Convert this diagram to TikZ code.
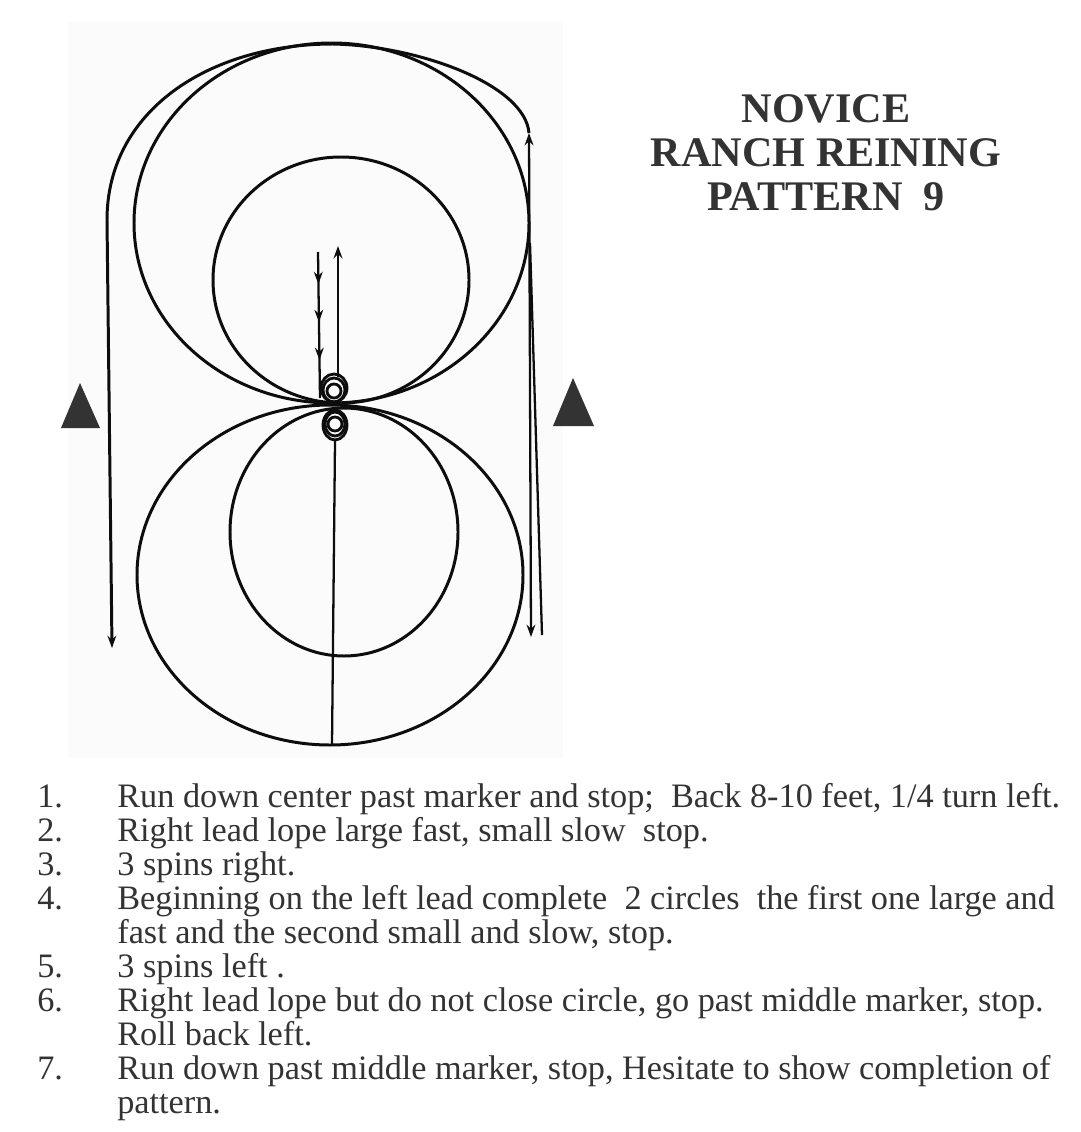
\documentclass[tikz,border=0pt]{standalone}
\usepackage{fontspec}
\setmainfont{Liberation Serif}
\usetikzlibrary{%
  arrows.meta,%
  decorations.markings%
}
\definecolor{inkgray}{HTML}{333333}
\definecolor{fieldgray}{HTML}{FBFBFB}

\begin{document}
\begin{tikzpicture}[x=0.02cm,y=-0.02cm,
  >={Stealth[length=7pt,width=5pt]},
  loop/.style={line width=1.7pt,black!95},
  run/.style={line width=1.3pt,black!95},
  spin/.style={line width=1.6pt,black!95},
  cone/.style={fill=inkgray},
  title/.style={font=\bfseries\fontsize{24}{24}\selectfont,text=inkgray,anchor=base,inner sep=0pt},
  item/.style={font=\fontsize{19.5}{19.5}\selectfont,text=inkgray,anchor=base west,inner sep=0pt}]
  \useasboundingbox (0,0) rectangle (1080,1132);
  \fill[white] (0,0) rectangle (1080,1132);
  \fill[fieldgray] (68,22) rectangle (563,758);
  % middle markers
  \fill[cone] (61,428) -- (80,383) -- (100,428) -- cycle;
  \fill[cone] (553,426) -- (573,378) -- (594,426) -- cycle;
  % circles
  \draw[loop] (331.5,223) ellipse [x radius=197.5,y radius=180];
  \draw[loop] (341,280) ellipse [x radius=128,y radius=123];
  \draw[loop] (330,575) ellipse [x radius=193,y radius=170];
  \draw[loop] (344,532) ellipse [x radius=114,y radius=124];
  % run down center, back up
  \draw[run,decoration={markings,
      mark=at position 0.22 with {\arrow{>}},
      mark=at position 0.48 with {\arrow{>}},
      mark=at position 0.74 with {\arrow{>}}},postaction={decorate}]
    (318,252) -- (320,398);
  \draw[run,->] (338,377) -- (338,246);
  \draw[run] (335,441) -- (332,745);
  % spins
  \draw[spin] (334,388) ellipse [x radius=13,y radius=14];
  \draw[spin] (334,390) ellipse [x radius=11,y radius=12];
  \draw[spin] (334,391) ellipse [x radius=7,y radius=7];
  \draw[spin] (335,425) ellipse [x radius=12,y radius=15];
  \draw[spin] (335,424) ellipse [x radius=10,y radius=12];
  \draw[spin] (335,424) ellipse [x radius=7,y radius=7];
  % outside run
  \draw[loop,->] (529,133) .. controls (525,85) and (420,46) .. (333,44)
    .. controls (210,44) and (107,110) .. (107,220) -- (112,648);
  \draw[run,<->] (531,637) -- (529,133);
  \draw[run] (530,243) -- (542,635);
  % title
  \node[title] (tnovice) at (826,122) {NOVICE};
  \node[title] (tranch) at (826,166) {RANCH REINING};
  \node[title] (tpattern) at (826,210) {PATTERN\ \ 9};
  % steps
  \foreach \n/\row in {1/0,2/1,3/2,4/3,5/5,6/6,7/8}
    \node[item] (num\n) at (37,807+34*\row) {\n.};
  \node[item] (step1) at (117,807) {Run down center past marker and stop;\ \ Back 8-10 feet, 1/4 turn left.};
  \node[item] (step2) at (117,841) {Right lead lope large fast, small slow\ \ stop.};
  \node[item] (step3) at (117,875) {3 spins right.};
  \node[item] (step4) at (117,909) {Beginning on the left lead complete\ \ 2 circles\ \ the first one large and};
  \node[item] (step4b) at (117,943) {fast and the second small and slow, stop.};
  \node[item] (step5) at (117,977) {3 spins left .};
  \node[item] (step6) at (117,1011) {Right lead lope but do not close circle, go past middle marker, stop.};
  \node[item] (step6b) at (117,1045) {Roll back left.};
  \node[item] (step7) at (117,1079) {Run down past middle marker, stop, Hesitate to show completion of};
  \node[item] (step7b) at (117,1113) {pattern.};
\end{tikzpicture}
\end{document}
